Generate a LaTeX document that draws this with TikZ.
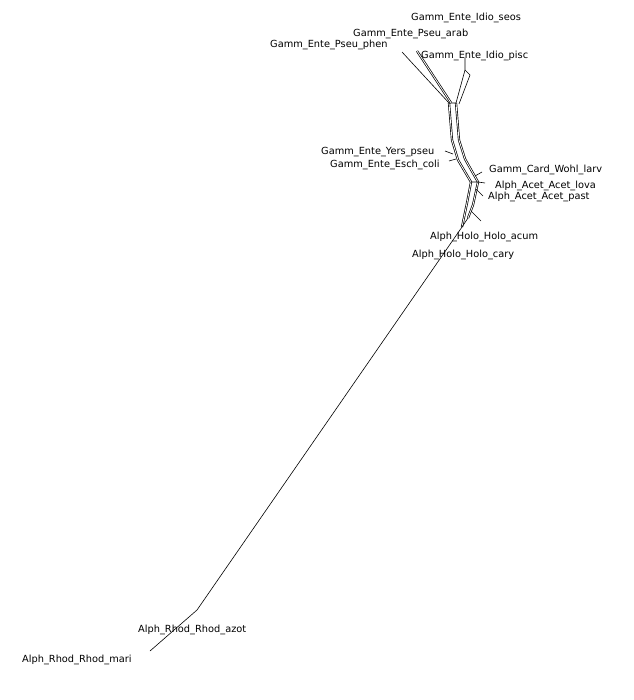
\documentclass[tikz,border=0pt]{standalone}
\usepackage{fontspec}
\setmainfont{DejaVu Sans}
\usetikzlibrary{calc}
\tikzset{
  taxon/.style={anchor=west,inner sep=0pt,font=\fontsize{9.8}{11}\selectfont},
  edge/.style={line width=0.6pt},
  strand/.style={line width=0.7pt,double,double distance=0.8pt}
}
\begin{document}
\begin{tikzpicture}[x=1pt,y=-1pt]
  \useasboundingbox (0,0) rectangle (633,700);
  % backbone of the network
  \coordinate (L1) at (449,103); \coordinate (R1) at (456,103);
  \coordinate (L2) at (452,140); \coordinate (R2) at (459,140);
  \coordinate (L3) at (458,160); \coordinate (R3) at (465,159);
  \coordinate (L4) at (471,182); \coordinate (R4) at (478,182);
  \coordinate (L5) at (467,203); \coordinate (R5) at (473,205);
  \coordinate (L6) at (462,227); \coordinate (R6) at (468,218);
  \coordinate (Azot) at (197,610);
  \coordinate (Mari) at (150,651);
  % leaf ends
  \coordinate (Phen) at (402,52);
  \coordinate (Arab) at (417,51);
  \coordinate (SeosB) at (465,70); \coordinate (Seos) at (465,58);
  \coordinate (Pisc) at (470,75);
  \coordinate (Yers) at (445,151); \coordinate (YersB) at (453,154);
  \coordinate (Coli) at (449,161); \coordinate (ColiB) at (456,159);
  \coordinate (Wohl) at (482,172); \coordinate (WohlB) at (475,176);
  \coordinate (Lova) at (485,183);
  \coordinate (Past) at (483,196); \coordinate (PastB) at (476,189);
  \coordinate (Acum) at (481,221); \coordinate (AcumB) at (471,211);

  \draw[strand] (L1) -- (L2) -- (L3) -- (L4) -- (L5) -- (L6);
  \draw[strand] (R1) -- (R2) -- (R3) -- (R4) -- (R5) -- (R6);
  \draw[edge] (L1) -- (R1) (L4) -- (R4) (R6) -- (L6);
  \draw[edge] (L6) -- (Azot) -- (Mari);

  \draw[edge] (L1) -- (Phen);
  \draw[strand] ($(L1)!0.3!(R1)$) -- (Arab);
  \draw[edge] (R1) -- (SeosB) -- (Seos);
  \draw[edge] ($(R1)+(3,1)$) -- (Pisc) -- (SeosB);
  \draw[edge] (YersB) -- (Yers) (ColiB) -- (Coli);
  \draw[edge] (WohlB) -- (Wohl) (R4) -- (Lova) (PastB) -- (Past) (AcumB) -- (Acum);

  \node[taxon] (tSeos) at (411,18) {Gamm\_Ente\_Idio\_seos};
  \node[taxon] (tArab) at (353,34) {Gamm\_Ente\_Pseu\_arab};
  \node[taxon] (tPhen) at (270,45) {Gamm\_Ente\_Pseu\_phen};
  \node[taxon] (tPisc) at (421,56) {Gamm\_Ente\_Idio\_pisc};
  \node[taxon] (tYers) at (321,152) {Gamm\_Ente\_Yers\_pseu};
  \node[taxon] (tColi) at (330,165) {Gamm\_Ente\_Esch\_coli};
  \node[taxon] (tWohl) at (489,170) {Gamm\_Card\_Wohl\_larv};
  \node[taxon] (tLova) at (495,186) {Alph\_Acet\_Acet\_lova};
  \node[taxon] (tPast) at (488,197) {Alph\_Acet\_Acet\_past};
  \node[taxon] (tAcum) at (430,237) {Alph\_Holo\_Holo\_acum};
  \node[taxon] (tCary) at (412,255) {Alph\_Holo\_Holo\_cary};
  \node[taxon] (tAzot) at (138,630) {Alph\_Rhod\_Rhod\_azot};
  \node[taxon] (tMari) at (22,660) {Alph\_Rhod\_Rhod\_mari};
\end{tikzpicture}
\end{document}
